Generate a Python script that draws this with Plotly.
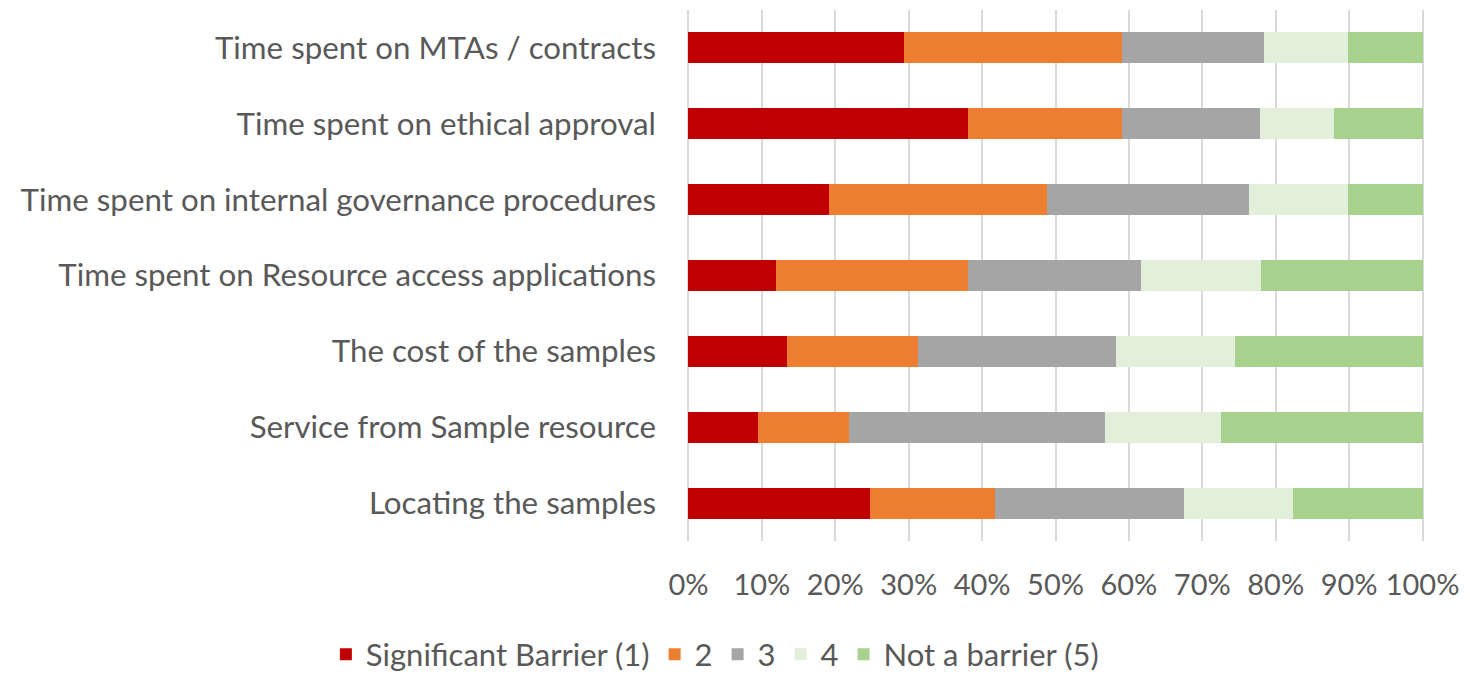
import plotly.graph_objects as go

categories = [
    "Time spent on MTAs / contracts",
    "Time spent on ethical approval",
    "Time spent on internal governance procedures",
    "Time spent on Resource access applications",
    "The cost of the samples",
    "Service from Sample resource",
    "Locating the samples",
]
series_names = ["Significant Barrier (1)", "2", "3", "4", "Not a barrier (5)"]
s1 = [29.3, 38.1, 19.2, 11.9, 13.4, 9.5, 24.7]
s2 = [29.7, 20.9, 29.6, 26.2, 17.9, 12.4, 17.0]
s3 = [19.4, 18.9, 27.6, 23.6, 27.0, 34.9, 25.8]
s4 = [11.5, 10.0, 13.5, 16.3, 16.2, 15.7, 14.8]
s5 = [10.1, 12.1, 10.1, 22.0, 25.5, 27.5, 17.7]
colors = ["#C00000", "#ED7D31", "#A5A5A5", "#E2EFDA", "#A9D18E"]
tick_vals = [0, 10, 20, 30, 40, 50, 60, 70, 80, 90, 100]
tick_text = ["0%", "10%", "20%", "30%", "40%", "50%", "60%", "70%", "80%", "90%", "100%"]

FONT = "Lato"
TXT = "#595959"

fig = go.Figure()
for name, vals, col in zip(series_names, [s1, s2, s3, s4, s5], colors):
    fig.add_trace(go.Bar(
        y=categories, x=vals, name=name, orientation="h",
        marker=dict(color=col, line=dict(width=0)),
    ))

# page body has an 8px default margin; figure coordinates are offset by 8px
fig.update_layout(
    barmode="stack",
    bargap=0.59,
    width=1462, height=700,
    margin=dict(l=679, r=46, t=2, b=167, autoexpand=False),
    paper_bgcolor="white", plot_bgcolor="white",
    font=dict(family=FONT, color=TXT, size=30),
    showlegend=True,
    legend=dict(
        orientation="h", xref="paper", yref="paper",
        x=-0.49, xanchor="left", y=-0.214, yanchor="middle",
        font=dict(family=FONT, size=31, color=TXT), traceorder="normal",
        itemwidth=30,
    ),
    xaxis=dict(
        range=[-0.2, 100.2], tickvals=tick_vals, ticktext=tick_text,
        showgrid=True, gridcolor="#D9D9D9", gridwidth=2,
        zeroline=False, showline=False, ticks="",
        ticklabelstandoff=24,
        tickfont=dict(family=FONT, size=29, color=TXT),
    ),
    yaxis=dict(
        categoryorder="array", categoryarray=categories[::-1],
        showgrid=False, zeroline=False, showline=False, ticks="",
        ticklabelstandoff=30,
        tickfont=dict(family=FONT, size=31.3, color=TXT),
    ),
)

fig.write_html("out.html")
